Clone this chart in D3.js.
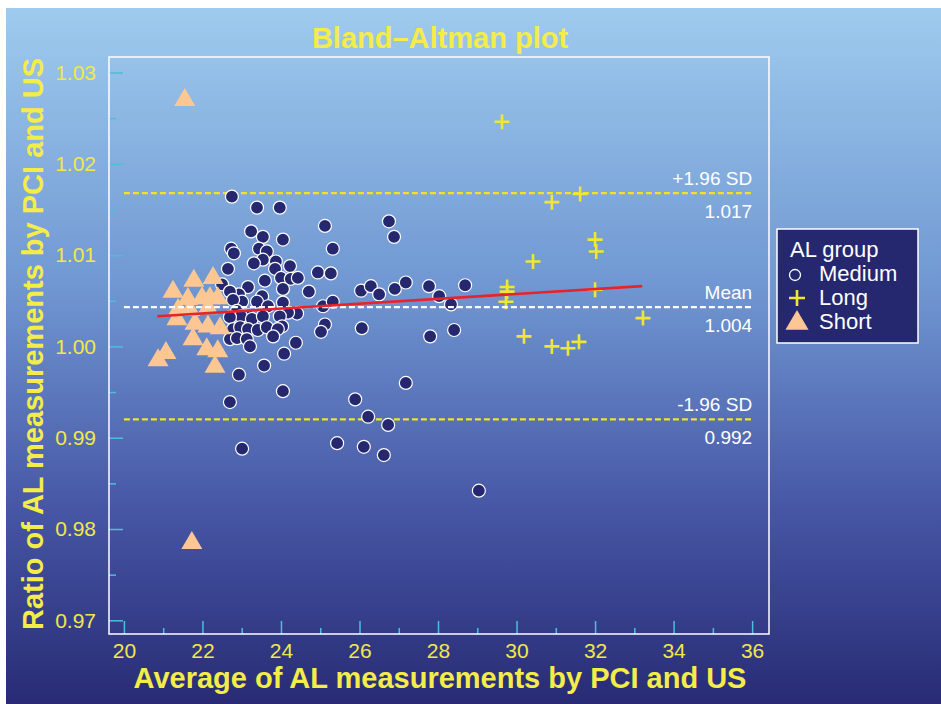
<!DOCTYPE html>
<html>
<head>
<meta charset="utf-8">
<style>
    body { margin: 0; background: #fff; }
    svg text { font-family: "Liberation Sans", Arial, Helvetica, sans-serif; }
    .axis .domain { display: none; }
    .axis line { stroke: #4cc0d6; stroke-width: 1.5; }
    .axis text { fill: #f1e84a; font-size: 21px; }
</style>
</head>
<body>
<svg width="941" height="704"></svg>
<script src="https://cdn.jsdelivr.net/npm/d3@7"></script>
<script>

// ---- data ----
var mediumPts = [
    [22.75,1.0164],[23.39,1.0152],[23.97,1.0152],[25.12,1.0132],[26.75,1.0137],[26.88,1.0120],
    [23.24,1.0126],[23.54,1.0120],[24.05,1.0117],[25.32,1.0107],[22.73,1.0107],[22.80,1.0102],
    [23.44,1.0107],[23.64,1.0104],[23.54,1.0095],[23.31,1.0091],[23.87,1.0093],[23.85,1.0085],
    [24.23,1.0088],[22.65,1.0085],[24.00,1.0075],[24.25,1.0074],[24.43,1.0075],[23.59,1.0072],
    [24.05,1.0063],[23.16,1.0065],[22.50,1.0068],[24.94,1.0081],[25.27,1.0080],[24.71,1.0060],
    [26.04,1.0061],[26.29,1.0066],[26.50,1.0057],[26.90,1.0063],[27.18,1.0070],[27.77,1.0066],
    [28.03,1.0055],[28.69,1.0067],[28.33,1.0046],[25.07,1.0044],[25.32,1.0049],[24.41,1.0036],
    [24.18,1.0037],[23.97,1.0033],[24.03,1.0022],[25.12,1.0024],[25.02,1.0016],[26.06,1.0020],
    [27.80,1.0011],[28.41,1.0018],[24.38,1.0004],[24.08,0.9992],[22.93,1.0057],[22.70,1.0060],
    [23.52,1.0055],[23.39,1.0049],[23.01,1.0049],[22.78,1.0051],[23.67,1.0044],[24.05,1.0048],
    [23.16,1.0034],[22.88,1.0039],[22.98,1.0033],[22.70,1.0032],[23.26,1.0030],[23.54,1.0033],
    [22.78,1.0019],[22.96,1.0021],[23.16,1.0019],[23.41,1.0018],[23.64,1.0021],[23.92,1.0019],
    [22.70,1.0008],[22.88,1.0009],[23.13,1.0008],[23.21,1.0000],[23.80,1.0011],[23.57,0.9979],
    [22.93,0.9969],[22.70,0.9939],[24.05,0.9951],[25.89,0.9942],[27.18,0.9960],[26.22,0.9923],
    [26.73,0.9914],[23.01,0.9888],[25.43,0.9894],[26.11,0.9890],[26.62,0.9881],[29.04,0.9842]
];
var longPts = [
    [29.63,1.0246],[31.62,1.0167],[30.90,1.0158],[32.00,1.0117],[32.03,1.0104],[30.42,1.0093],
    [29.76,1.0065],[29.76,1.0060],[29.73,1.0049],[32.00,1.0062],[33.22,1.0031],[30.19,1.0011],
    [30.90,1.0000],[31.31,0.9998],[31.59,1.0005]
];
var shortPts = [
    [21.55,1.0272],[21.73,0.9787],[21.78,1.0074],[22.27,1.0077],[21.25,1.0062],[21.63,1.0054],
    [21.99,1.0055],[22.19,1.0055],[22.39,1.0055],[21.38,1.0042],[21.68,1.0042],[22.14,1.0044],
    [21.35,1.0032],[21.81,1.0027],[22.14,1.0024],[22.45,1.0022],[21.76,1.0010],[22.11,0.9999],
    [22.39,0.9997],[20.87,0.9987],[21.07,0.9995],[22.32,0.9980]
];
var fitLine = [[20.85,1.0033],[33.2,1.0066]];
var limits = [
    {value: 1.0168, top: "+1.96 SD", bottom: "1.017", color: "#f2e424"},
    {value: 1.0043, top: "Mean", bottom: "1.004", color: "#ffffff"},
    {value: 0.9920, top: "-1.96 SD", bottom: "0.992", color: "#f2e424"}
];
var xTicks = [20,22,24,26,28,30,32,34,36];
var xMinor = [21,23,25,27,29,31,33,35];
var yTicks = [0.97,0.98,0.99,1.00,1.01,1.02,1.03];
var yMinor = [0.975,0.985,0.995,1.005,1.015,1.025];
var groups = ["Medium", "Long", "Short"];

var svg = d3.select("svg");
var plotL = 109, plotR = 769, plotT = 57, plotB = 634;

var x = d3.scaleLinear().domain([19.62, 36.43]).range([plotL, plotR]);
var y = d3.scaleLinear().domain([0.9685, 1.0317]).range([plotB, plotT]);

// background
var grad = svg.append("defs").append("linearGradient")
    .attr("id", "bg").attr("x1", 0).attr("y1", 0).attr("x2", 0).attr("y2", 1);
grad.append("stop").attr("offset", "0").attr("stop-color", "#9fcbee");
grad.append("stop").attr("offset", "0.4").attr("stop-color", "#7097d2");
grad.append("stop").attr("offset", "0.72").attr("stop-color", "#4656a5");
grad.append("stop").attr("offset", "1").attr("stop-color", "#282b74");

svg.append("rect").attr("x", 6).attr("y", 8).attr("width", 935).attr("height", 696)
    .attr("fill", "url(#bg)");

// title
svg.append("text")
    .attr("x", 440).attr("y", 48)
    .attr("text-anchor", "middle")
    .attr("fill", "#f4ec48")
    .style("font-size", "29px").style("font-weight", "bold")
    .text("Bland\u2013Altman plot");

// axes (ticks inward)
svg.append("g").attr("class", "axis")
    .attr("transform", "translate(0," + plotB + ")")
    .call(d3.axisBottom(x).tickValues(xTicks).tickSize(-13).tickPadding(9).tickFormat(d3.format("d")));
svg.append("g").attr("class", "axis")
    .attr("transform", "translate(0," + plotB + ")")
    .call(d3.axisBottom(x).tickValues(xMinor).tickSize(-6).tickFormat(""));
svg.append("g").attr("class", "axis")
    .attr("transform", "translate(" + plotL + ",0)")
    .call(d3.axisLeft(y).tickValues(yTicks).tickSize(-14).tickPadding(13).tickFormat(d3.format(".2f")));
svg.append("g").attr("class", "axis")
    .attr("transform", "translate(" + plotL + ",0)")
    .call(d3.axisLeft(y).tickValues(yMinor).tickSize(-7).tickFormat(""));

// frame
svg.append("rect")
    .attr("x", plotL).attr("y", plotT).attr("width", plotR - plotL).attr("height", plotB - plotT)
    .attr("fill", "none").attr("stroke", "#ffffff").attr("stroke-width", 1.5);

// axis titles
svg.append("text")
    .attr("x", 440).attr("y", 688)
    .attr("text-anchor", "middle")
    .attr("fill", "#f4ec48")
    .style("font-size", "29px").style("font-weight", "bold")
    .text("Average of AL measurements by PCI and US");
svg.append("text")
    .attr("transform", "translate(43,344) rotate(-90)")
    .attr("text-anchor", "middle")
    .attr("fill", "#f4ec48")
    .style("font-size", "29px").style("font-weight", "bold")
    .text("Ratio of AL measurements by PCI and US");

// SD lines
svg.selectAll(".sd")
    .data(limits.filter(function(d) { return d.top !== "Mean"; }))
    .enter().append("line")
    .attr("x1", x(20)).attr("x2", x(36))
    .attr("y1", function(d) { return y(d.value); })
    .attr("y2", function(d) { return y(d.value); })
    .attr("stroke", function(d) { return d.color; })
    .attr("stroke-width", 2.2)
    .attr("stroke-dasharray", "6,3");

// points
var triPath = "M0,-10L10.5,8L-10.5,8Z";

svg.append("g").selectAll("circle")
    .data(mediumPts)
    .enter().append("circle")
    .attr("cx", function(d) { return x(d[0]); })
    .attr("cy", function(d) { return y(d[1]); })
    .attr("r", 6.5)
    .attr("fill", "#26286f")
    .attr("stroke", "#ffffff")
    .attr("stroke-width", 1.2);

svg.append("g").selectAll("path")
    .data(longPts)
    .enter().append("path")
    .attr("transform", function(d) { return "translate(" + x(d[0]) + "," + y(d[1]) + ")"; })
    .attr("d", "M-7.5,0H7.5M0,-7.5V7.5")
    .attr("stroke", "#f1e634")
    .attr("stroke-width", 2.6)
    .attr("fill", "none");

svg.append("g").selectAll("path")
    .data(shortPts)
    .enter().append("path")
    .attr("transform", function(d) { return "translate(" + x(d[0]) + "," + y(d[1]) + ")"; })
    .attr("d", triPath)
    .attr("fill", "#fcc792");

// mean line and regression line on top
var mean = limits[1];
svg.append("line")
    .attr("x1", x(20)).attr("x2", x(36))
    .attr("y1", y(mean.value)).attr("y2", y(mean.value))
    .attr("stroke", "#ffffff")
    .attr("stroke-width", 2.2)
    .attr("stroke-dasharray", "6,3");

svg.append("path")
    .datum(fitLine)
    .attr("d", d3.line().x(function(d) { return x(d[0]); }).y(function(d) { return y(d[1]); }))
    .attr("stroke", "#e8232b")
    .attr("stroke-width", 2.6)
    .attr("fill", "none");

// limit labels
var lab = svg.append("g").selectAll("g")
    .data(limits)
    .enter().append("g")
    .attr("transform", function(d) { return "translate(" + x(36) + "," + y(d.value) + ")"; });
lab.append("text")
    .attr("y", -8).attr("text-anchor", "end").attr("fill", "#ffffff")
    .style("font-size", "19px")
    .text(function(d) { return d.top; });
lab.append("text")
    .attr("y", 25).attr("text-anchor", "end").attr("fill", "#ffffff")
    .style("font-size", "19px")
    .text(function(d) { return d.bottom; });

// legend
var legend = svg.append("g").attr("transform", "translate(777,229)");
legend.append("rect")
    .attr("width", 141).attr("height", 114)
    .attr("fill", "#25286f").attr("stroke", "#ffffff").attr("stroke-width", 1.5);
legend.append("text")
    .attr("x", 13).attr("y", 28).attr("fill", "#ffffff")
    .style("font-size", "22px").text("AL group");
var item = legend.selectAll(".item")
    .data(groups)
    .enter().append("g")
    .attr("transform", function(d, i) { return "translate(0," + (52 + i * 24) + ")"; });
item.append("text")
    .attr("x", 42).attr("fill", "#ffffff")
    .style("font-size", "22px")
    .text(function(d) { return d; });
item.filter(function(d) { return d === "Medium"; }).append("circle")
    .attr("cx", 18).attr("cy", -6).attr("r", 5.5)
    .attr("fill", "none").attr("stroke", "#ffffff").attr("stroke-width", 1.3);
item.filter(function(d) { return d === "Long"; }).append("path")
    .attr("transform", "translate(20,-7)")
    .attr("d", "M-8,0H8M0,-8V8")
    .attr("stroke", "#f1e634").attr("stroke-width", 2.6);
item.filter(function(d) { return d === "Short"; }).append("path")
    .attr("transform", "translate(20,-8) scale(1.1)")
    .attr("d", triPath)
    .attr("fill", "#fcc792");

</script>
</body>
</html>
